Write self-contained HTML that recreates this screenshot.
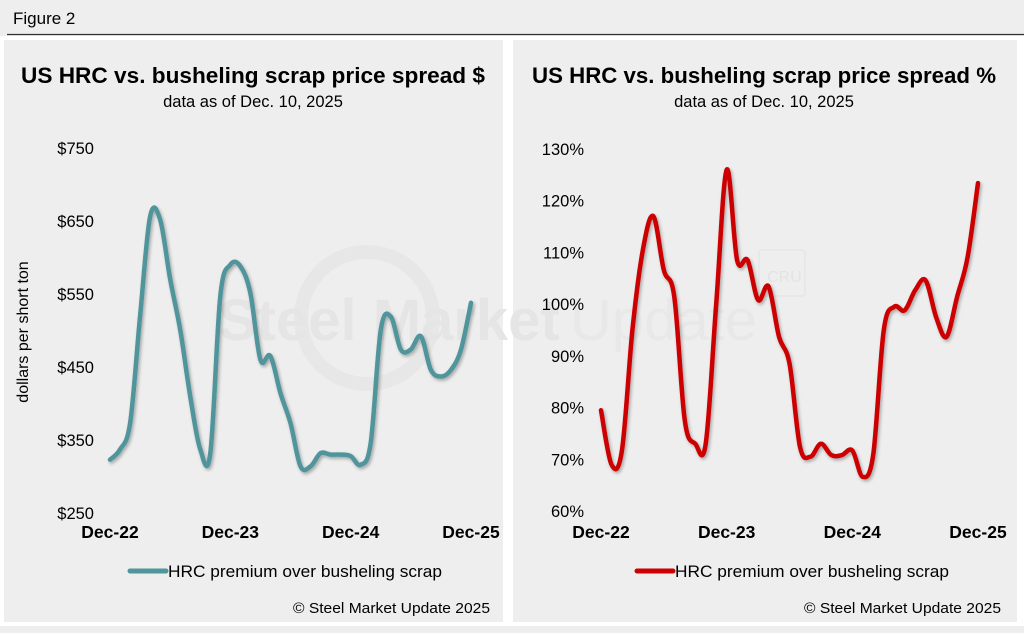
<!DOCTYPE html>
<html><head><meta charset="utf-8"><style>
html,body{margin:0;padding:0;background:#fff;}
body{width:1024px;height:633px;overflow:hidden;font-family:"Liberation Sans",Arial,sans-serif;}
</style></head><body>
<svg width="1024" height="633" viewBox="0 0 1024 633" xmlns="http://www.w3.org/2000/svg" font-family="Liberation Sans, Arial, sans-serif">
<defs>
<filter id="sh" x="-10%" y="-10%" width="120%" height="120%"><feDropShadow dx="1.5" dy="2" stdDeviation="1.5" flood-color="#000" flood-opacity="0.3"/></filter>
</defs>
<rect x="0" y="0" width="1024" height="633" fill="#eeeeee"/>
<text x="13" y="24" font-size="17" fill="#000">Figure 2</text>
<line x1="7" y1="34.5" x2="1024" y2="34.5" stroke="#333" stroke-width="1.2"/>
<rect x="0" y="36" width="1024" height="4" fill="#fff"/>
<rect x="0" y="622" width="1024" height="4" fill="#fff"/>
<rect x="0" y="36" width="4" height="590" fill="#fff"/>
<rect x="503" y="36" width="10" height="590" fill="#fff"/>
<rect x="1017" y="36" width="7" height="590" fill="#fff"/>
<rect x="4" y="40" width="499" height="582" fill="#eeeeee"/>
<rect x="513" y="40" width="504" height="582" fill="#eeeeee"/>
<g>
<circle cx="367" cy="318" r="66" fill="none" stroke="#e7e7e7" stroke-width="14"/>
<text x="218" y="340" font-size="58" font-weight="bold" fill="#e5e5e5">Steel Market</text>
<text x="570" y="340" font-size="58" fill="#e8e8e8">Update</text>
<rect x="759" y="250" width="46" height="46" rx="3" fill="none" stroke="#e6e6e6" stroke-width="1.5"/>
<text x="767" y="282" font-size="16" fill="#e3e3e3">CRU</text>
</g>
<g id="left"></g>
<g id="right"></g>
</svg>
<script>
const months = ["Dec-22","Jan-23","Feb-23","Mar-23","Apr-23","May-23","Jun-23","Jul-23","Aug-23","Sep-23","Oct-23","Nov-23","Dec-23","Jan-24","Feb-24","Mar-24","Apr-24","May-24","Jun-24","Jul-24","Aug-24","Sep-24","Oct-24","Nov-24","Dec-24","Jan-25","Feb-25","Mar-25","Apr-25","May-25","Jun-25","Jul-25","Aug-25","Sep-25","Oct-25","Nov-25","Dec-25"];
const spreadDollars = [323,337,373,520,656,652,570,501,410,337,332,547,590,588,551,460,465,414,373,314,314,332,330,330,328,316,346,501,519,474,474,492,446,437,446,474,538];
const spreadPct = [79.5,69,71.7,95,110.5,117,106.6,101.4,77.5,73,73,100,126,108.5,108.5,100.8,103.4,93.7,88.5,72.4,70.5,73,70.8,70.8,71.7,66.6,71,95,99.5,98.8,102.7,104.6,97.5,93.7,101.4,109,123.4];
const leftTicks = ["$250","$350","$450","$550","$650","$750"];
const leftTickVals = [250,350,450,550,650,750];
const rightTicks = ["60%","70%","80%","90%","100%","110%","120%","130%"];
const rightTickVals = [60,70,80,90,100,110,120,130];
const xTickLabels = ["Dec-22","Dec-23","Dec-24","Dec-25"];
const xTickIdx = [0,12,24,36];

const NS="http://www.w3.org/2000/svg";
function mk(parent,tag,attrs,txt){const e=document.createElementNS(NS,tag);for(const k in attrs)e.setAttribute(k,attrs[k]);if(txt!==undefined)e.textContent=txt;parent.appendChild(e);return e;}
function smooth(pts){
  let d='M'+pts[0][0].toFixed(1)+' '+pts[0][1].toFixed(1);
  for(let i=0;i<pts.length-1;i++){
    const p0=pts[Math.max(0,i-1)],p1=pts[i],p2=pts[i+1],p3=pts[Math.min(pts.length-1,i+2)];
    const t=0.17;
    const c1=[p1[0]+(p2[0]-p0[0])*t,p1[1]+(p2[1]-p0[1])*t];
    const c2=[p2[0]-(p3[0]-p1[0])*t,p2[1]-(p3[1]-p1[1])*t];
    d+=' C'+c1[0].toFixed(1)+' '+c1[1].toFixed(1)+' '+c2[0].toFixed(1)+' '+c2[1].toFixed(1)+' '+p2[0].toFixed(1)+' '+p2[1].toFixed(1);
  }
  return d;
}
function drawChart(g,cfg){
  const xs=i=>cfg.x0+(cfg.x1-cfg.x0)*i/(months.length-1);
  const ys=v=>cfg.yTop+(cfg.yBot-cfg.yTop)*(cfg.vmax-v)/(cfg.vmax-cfg.vmin);
  let t=mk(g,'text',{x:cfg.cx,y:83,'font-size':22.5,'font-weight':'bold','text-anchor':'middle',fill:'#000',textLength:464,lengthAdjust:'spacingAndGlyphs'},cfg.title);
  
  
  t=mk(g,'text',{x:cfg.cx,y:107,'font-size':16.5,'text-anchor':'middle',fill:'#000'},'data as of Dec. 10, 2025');
  
  
  cfg.ticks.forEach((lab,k)=>{
    const e=mk(g,'text',{x:cfg.tickX,y:ys(cfg.tickVals[k])+6,'font-size':16.5,'text-anchor':'end',fill:'#000'},lab);
    
    
  });
  xTickIdx.forEach((idx,k)=>{
    const e=mk(g,'text',{x:xs(idx),y:538,'font-size':17.5,'font-weight':'bold','text-anchor':'middle',fill:'#000'},xTickLabels[k]);
    
    
  });
  const pts=cfg.data.map((v,i)=>[xs(i),ys(v)]);
  const p=mk(g,'path',{d:smooth(pts),fill:'none',stroke:cfg.color,'stroke-width':4.5,'stroke-linejoin':'round','stroke-linecap':'round',filter:'url(#sh)'});
  
  
  const lg=mk(g,'g',{});
  
  
  mk(lg,'line',{x1:cfg.legX,y1:571,x2:cfg.legX+36,y2:571,stroke:cfg.color,'stroke-width':5,'stroke-linecap':'round'});
  mk(lg,'text',{x:cfg.legX+38,y:577,'font-size':17,fill:'#000',textLength:274,lengthAdjust:'spacingAndGlyphs'},'HRC premium over busheling scrap');
  t=mk(g,'text',{x:cfg.copyX,y:613,'font-size':14.5,'text-anchor':'end',fill:'#000',textLength:197,lengthAdjust:'spacingAndGlyphs'},'© Steel Market Update 2025');
  
  
}
const L=document.getElementById('left');


drawChart(L,{title:'US HRC vs. busheling scrap price spread $',cx:253,x0:110,x1:471,yTop:148,yBot:513,vmin:250,vmax:750,data:spreadDollars,ticks:leftTicks,tickVals:leftTickVals,tickX:94,color:'#4f959b',legX:130,copyX:490});
const yl=mk(L,'text',{x:0,y:0,'font-size':16,'text-anchor':'middle',fill:'#000',transform:'translate(28,332) rotate(-90)'},'dollars per short ton');


const R=document.getElementById('right');


drawChart(R,{title:'US HRC vs. busheling scrap price spread %',cx:764,x0:601,x1:978,yTop:149,yBot:511,vmin:60,vmax:130,data:spreadPct,ticks:rightTicks,tickVals:rightTickVals,tickX:584,color:'#cc0000',legX:637,copyX:1001});
</script>
</body></html>
